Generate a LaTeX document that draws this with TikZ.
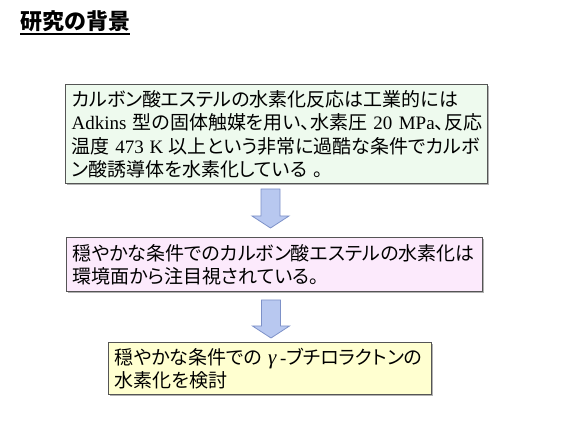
\documentclass[tikz,border=0pt]{standalone}
\usepackage{fontspec}
\newfontfamily\jp{Noto Sans CJK JP}[RawFeature=+palt]
\newfontfamily\jpt{Noto Sans CJK JP}
\newfontfamily\ser{Liberation Serif}
\usetikzlibrary{calc,shadows}
\definecolor{gfill}{RGB}{238,250,238}
\definecolor{pfill}{RGB}{252,234,252}
\definecolor{yfill}{RGB}{255,255,208}
\definecolor{bord}{RGB}{85,85,85}
\definecolor{afill}{RGB}{184,200,240}
\definecolor{adraw}{RGB}{125,145,200}
\begin{document}
\begin{tikzpicture}[x=1pt,y=-1pt,
  box/.style={draw=bord, line width=1.3pt, anchor=north west, inner xsep=6pt, inner ysep=0pt,
    align=left, font=\jp\fontsize{19}{23.5}\selectfont,
    general shadow={fill=black!30, shadow xshift=1.5pt, shadow yshift=-1.5pt}},
  barrow/.style={fill=afill, draw=adraw, line width=0.8pt, line join=miter}]
\useasboundingbox (0,0) rectangle (566,425);
\node[anchor=base west, inner sep=0, font=\jpt\bfseries\fontsize{22}{26}\selectfont] (title) at (20,30) {研究の背景};
\draw[line width=1.5pt] ($(title.base west)+(0,4)$) -- ($(title.base east)+(0,4)$);

\node[box, fill=gfill, text width=410pt, minimum height=99pt] (b1) at (65,84)
 {\mbox{カルボン酸エステルの水素化反応は工業的には}\\
  \mbox{{\ser Adkins} 型の固体触媒を用い、水素圧 {\ser 20 MPa}、反応}\\
  \mbox{温度\hspace{0.3em}{\ser 473}\hspace{0.3em}{\ser K}\hspace{0.3em}以上という非常に過酷な条件でカルボ}\\
  \mbox{ン酸誘導体を水素化している 。}};

\node[box, fill=pfill, text width=404pt, minimum height=54pt] (b2) at (66,237)
 {\mbox{穏やかな条件でのカルボン酸エステルの水素化は}\\
  \mbox{環境面から注目視されている。}};

\node[box, fill=yfill, text width=311pt, minimum height=52pt] (b3) at (108,342)
 {\mbox{穏やかな条件での\hspace{0.3em}{\ser\itshape\fontsize{21}{23.5}\selectfont γ}\hspace{0.2em}{\ser -}ブチロラクトンの}\\
  \mbox{水素化を検討}};

\coordinate (a1) at (270.5,189);
\coordinate (a2) at (271,300);
\draw[barrow] ($(a1)+(-9.5,0)$) -- ++(19,0) -- ++(0,27) -- ++(9,0) -- ++(-18.5,12) -- ++(-18.5,-12) -- ++(9,0) -- cycle;
\draw[barrow] ($(a2)+(-9.5,0)$) -- ++(19,0) -- ++(0,26) -- ++(9,0) -- ++(-18.5,12) -- ++(-18.5,-12) -- ++(9,0) -- cycle;
\end{tikzpicture}
\end{document}
